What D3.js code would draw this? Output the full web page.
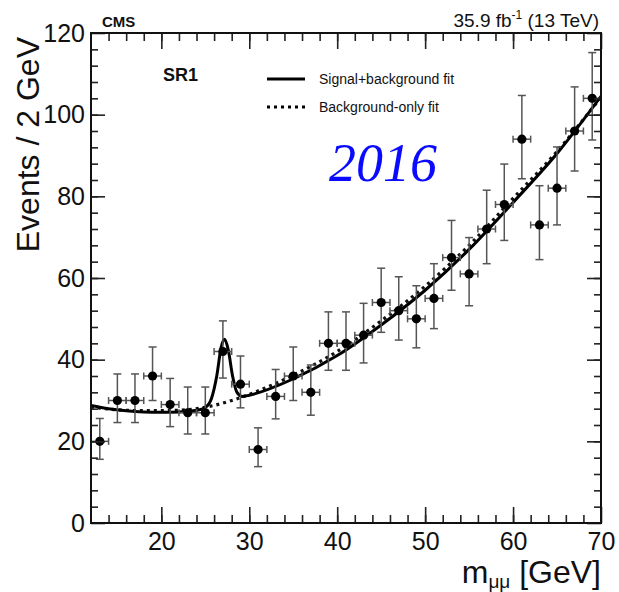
<!DOCTYPE html>
<html>
<head>
<meta charset="utf-8">
<script src="https://cdn.jsdelivr.net/npm/d3@7"></script>
<style>
  body { margin: 0; background: #fff; }
  text { font-family: "Liberation Sans", Arial, sans-serif; fill: #111; }
</style>
</head>
<body>
<svg id="chart" width="619" height="592"></svg>
<script>
// bin centres (2 GeV bins) and observed events
var binCenters = [13, 15, 17, 19, 21, 23, 25, 27, 29, 31, 33, 35, 37, 39, 41,
                  43, 45, 47, 49, 51, 53, 55, 57, 59, 61, 63, 65, 67, 69];
var events     = [20, 30, 30, 36, 29, 27, 27, 42, 34, 18, 31, 36, 32, 44, 44,
                  46, 54, 52, 50, 55, 65, 61, 72, 78, 94, 73, 82, 96, 104];
var errUp      = [5.6, 6.5, 6.5, 7.1, 6.4, 6.3, 6.3, 7.5, 6.9, 5.3, 6.6, 7.1, 6.7, 7.7, 7.7,
                  7.8, 8.4, 8.3, 8.1, 8.5, 9.1, 8.9, 9.5, 9.9, 10.7, 9.6, 10.1, 10.8, 11.2];
var errDown    = [4.4, 5.4, 5.4, 6.0, 5.4, 5.2, 5.2, 6.5, 5.8, 4.2, 5.5, 6.0, 5.6, 6.6, 6.6,
                  6.8, 7.3, 7.2, 7.1, 7.4, 8.0, 7.8, 8.5, 8.8, 9.7, 8.5, 9.0, 9.8, 10.2];

// fit curves
var sbMass = [12, 14, 16, 18, 20, 22, 24, 25, 25.7, 26.3, 26.8, 27.2, 27.6, 28.1, 28.6, 29.2, 30,
              35, 40, 45, 50, 55, 60, 65, 70];
var sbFit  = [28.8, 28, 27.5, 27.2, 27.1, 27.2, 27.6, 28.3, 30.5, 36, 43, 45, 42.5, 36, 32, 31, 31.3,
              35.3, 41, 48.5, 57, 67, 78.5, 90.5, 104.5];
var bMass  = [12, 14, 16, 18, 20, 22, 24, 26, 28, 30, 35, 40, 45, 50, 55, 60, 65, 70];
var bFit   = [28.4, 27.9, 27.6, 27.5, 27.5, 27.6, 28, 28.8, 30, 31.5, 36.2, 42, 49.5, 58, 68, 79.5, 91, 104.3];

var xTicks = [20, 30, 40, 50, 60, 70];
var yTicks = [0, 20, 40, 60, 80, 100, 120];

var svg = d3.select("#chart"),
    margin = {top: 33, right: 18, bottom: 69, left: 91},
    width = +svg.attr("width") - margin.left - margin.right,
    height = +svg.attr("height") - margin.top - margin.bottom;

var x = d3.scaleLinear().domain([12, 70]).range([0, width]);
var y = d3.scaleLinear().domain([0, 120]).range([height, 0]);

var g = svg.append("g")
    .attr("transform", "translate(" + margin.left + "," + margin.top + ")");

svg.append("defs").append("clipPath").attr("id", "plot-clip")
  .append("rect").attr("width", width).attr("height", height);

// fit curves
var line = d3.line().curve(d3.curveMonotoneX)
    .x(function(d) { return x(d[0]); })
    .y(function(d) { return y(d[1]); });

g.append("path")
    .datum(d3.zip(bMass, bFit))
    .attr("clip-path", "url(#plot-clip)")
    .attr("fill", "none")
    .attr("stroke", "#111")
    .attr("stroke-width", 3.2)
    .attr("stroke-dasharray", "3,4")
    .attr("d", line);

g.append("path")
    .datum(d3.zip(sbMass, sbFit))
    .attr("clip-path", "url(#plot-clip)")
    .attr("fill", "none")
    .attr("stroke", "#000")
    .attr("stroke-width", 3)
    .attr("d", line);

// data points with error bars
var data = binCenters.map(function(c, i) {
  return {x: c, n: events[i], up: errUp[i], down: errDown[i]};
});

var pts = g.selectAll(".pt")
    .data(data)
  .enter().append("g")
    .attr("class", "pt")
    .attr("stroke", "#555")
    .attr("stroke-width", 1.5);

pts.append("line")
    .attr("x1", function(d) { return x(d.x); })
    .attr("x2", function(d) { return x(d.x); })
    .attr("y1", function(d) { return y(d.n + d.up); })
    .attr("y2", function(d) { return y(d.n - d.down); });
pts.append("line")
    .attr("x1", function(d) { return x(d.x) - 4; })
    .attr("x2", function(d) { return x(d.x) + 4; })
    .attr("y1", function(d) { return y(d.n + d.up); })
    .attr("y2", function(d) { return y(d.n + d.up); });
pts.append("line")
    .attr("x1", function(d) { return x(d.x) - 4; })
    .attr("x2", function(d) { return x(d.x) + 4; })
    .attr("y1", function(d) { return y(d.n - d.down); })
    .attr("y2", function(d) { return y(d.n - d.down); });
pts.append("line")
    .attr("x1", function(d) { return x(d.x - 1); })
    .attr("x2", function(d) { return x(d.x + 1); })
    .attr("y1", function(d) { return y(d.n); })
    .attr("y2", function(d) { return y(d.n); });
pts.append("line")
    .attr("x1", function(d) { return x(d.x - 1); })
    .attr("x2", function(d) { return x(d.x - 1); })
    .attr("y1", function(d) { return y(d.n) - 3.5; })
    .attr("y2", function(d) { return y(d.n) + 3.5; });
pts.append("line")
    .attr("x1", function(d) { return x(d.x + 1); })
    .attr("x2", function(d) { return x(d.x + 1); })
    .attr("y1", function(d) { return y(d.n) - 3.5; })
    .attr("y2", function(d) { return y(d.n) + 3.5; });
pts.append("circle")
    .attr("cx", function(d) { return x(d.x); })
    .attr("cy", function(d) { return y(d.n); })
    .attr("r", 4.6)
    .attr("stroke", "none")
    .attr("fill", "#000");

// axes: ticks inside on all four sides
function styleAxis(sel) {
  sel.select(".domain").remove();
  sel.selectAll(".tick line").attr("stroke", "#222").attr("stroke-width", 1.6);
  sel.selectAll("text").style("font-size", "25px").attr("fill", "#111");
}

g.append("g").attr("transform", "translate(0," + height + ")")
    .call(d3.axisBottom(x).tickValues(d3.range(14, 70, 2)).tickSize(-8).tickFormat(""))
    .call(styleAxis);
g.append("g").attr("transform", "translate(0," + height + ")")
    .call(d3.axisBottom(x).tickValues(xTicks).tickSize(-16).tickPadding(9))
    .call(styleAxis);
g.append("g")
    .call(d3.axisTop(x).tickValues(d3.range(14, 70, 2)).tickSize(-8).tickFormat(""))
    .call(styleAxis);
g.append("g")
    .call(d3.axisTop(x).tickValues(xTicks).tickSize(-16).tickFormat(""))
    .call(styleAxis);

g.append("g")
    .call(d3.axisLeft(y).tickValues(d3.range(4, 120, 4)).tickSize(-7).tickFormat(""))
    .call(styleAxis);
g.append("g")
    .call(d3.axisLeft(y).tickValues(yTicks).tickSize(-14).tickPadding(6))
    .call(styleAxis);
g.append("g").attr("transform", "translate(" + width + ",0)")
    .call(d3.axisRight(y).tickValues(d3.range(4, 120, 4)).tickSize(-7).tickFormat(""))
    .call(styleAxis);
g.append("g").attr("transform", "translate(" + width + ",0)")
    .call(d3.axisRight(y).tickValues(yTicks).tickSize(-14).tickFormat(""))
    .call(styleAxis);

g.append("rect")
    .attr("width", width).attr("height", height)
    .attr("fill", "none").attr("stroke", "#111").attr("stroke-width", 2);

// axis titles
svg.append("text")
    .attr("transform", "translate(" + (margin.left + width) + ",583)")
    .attr("text-anchor", "end")
    .style("font-size", "32px")
    .html('m<tspan font-size="19px" dy="5">μμ</tspan><tspan dy="-5"> [GeV]</tspan>');

svg.append("text")
    .attr("transform", "translate(39,37) rotate(-90)")
    .attr("text-anchor", "end")
    .style("font-size", "32px")
    .text("Events / 2 GeV");

// labels
svg.append("text")
    .attr("x", 102).attr("y", 27)
    .style("font-size", "15px").style("font-weight", "bold")
    .text("CMS");

svg.append("text")
    .attr("x", 599).attr("y", 27)
    .attr("text-anchor", "end")
    .style("font-size", "19px")
    .html('35.9 fb<tspan font-size="12px" dy="-8">-1</tspan><tspan dy="8"> (13 TeV)</tspan>');

g.append("text")
    .attr("x", 72).attr("y", 48)
    .style("font-size", "18px").style("font-weight", "bold")
    .text("SR1");

// legend
var legend = [{label: "Signal+background fit", dash: null},
              {label: "Background-only fit", dash: "3,4"}];
var lg = g.selectAll(".legend")
    .data(legend)
  .enter().append("g")
    .attr("class", "legend")
    .attr("transform", function(d, i) { return "translate(176," + (46 + i * 28) + ")"; });
lg.append("line")
    .attr("x1", 0).attr("x2", 38)
    .attr("stroke", "#000").attr("stroke-width", 3)
    .attr("stroke-dasharray", function(d) { return d.dash; });
lg.append("text")
    .attr("x", 52).attr("y", 5)
    .style("font-size", "14px")
    .text(function(d) { return d.label; });

svg.append("text")
    .attr("x", 329).attr("y", 181)
    .style("font-family", "'Liberation Serif', serif")
    .style("font-style", "italic")
    .style("font-size", "54px")
    .style("fill", "#0a0aff")
    .text("2016");
</script>
</body>
</html>
